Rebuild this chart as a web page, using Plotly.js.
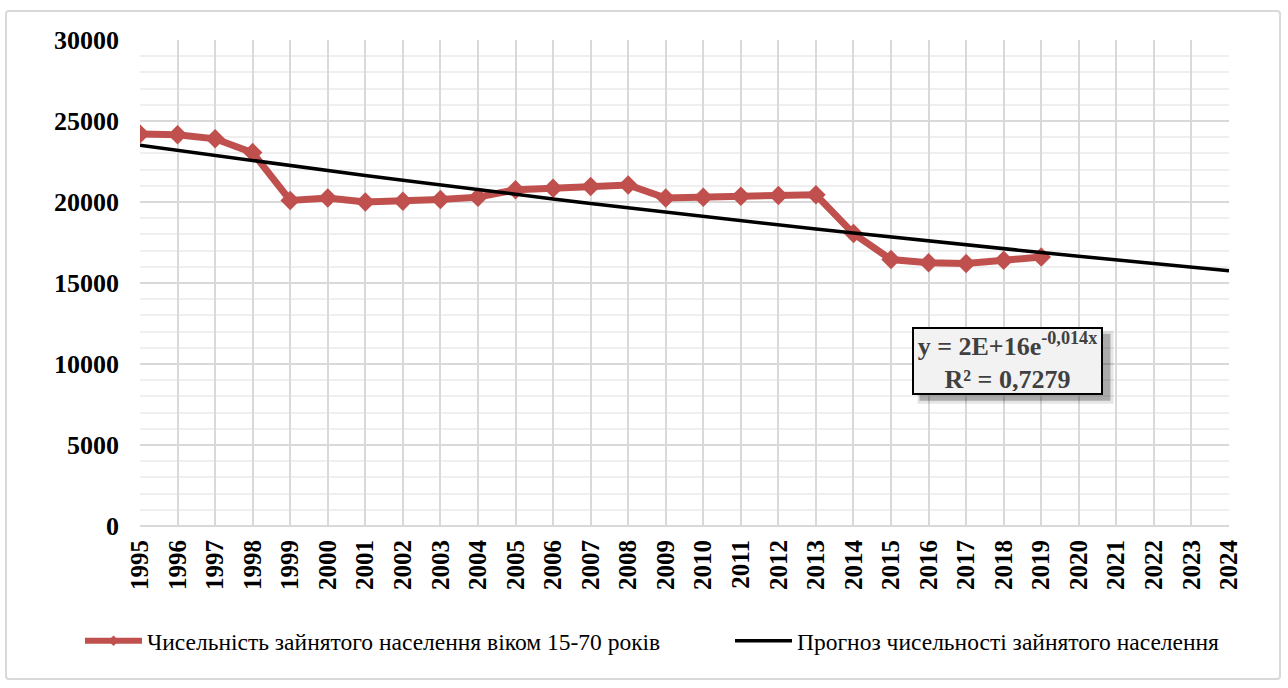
<!DOCTYPE html>
<html>
<head>
<meta charset="utf-8">
<script src="https://cdn.plot.ly/plotly-3.0.1.min.js"></script>
<style>
  html, body { margin: 0; padding: 0; background: #fff; }
  #wrap { position: relative; width: 1288px; height: 688px; }
  #chart { width: 1288px; height: 688px; }
  #frame { position: absolute; left: 5px; top: 10px; width: 1276px; height: 670px;
           border: 2px solid #d9d9d9; border-radius: 4px; pointer-events: none; box-sizing: border-box; }
</style>
</head>
<body>
<div id="wrap">
  <div id="chart"></div>
  <div id="frame"></div>
</div>
<script>
// Observed series
const years = [1995,1996,1997,1998,1999,2000,2001,2002,2003,2004,2005,2006,2007,2008,2009,2010,2011,2012,2013,2014,2015,2016,2017,2018,2019];
const employed = [24200,24150,23900,23050,20100,20250,20000,20050,20150,20300,20750,20850,20950,21050,20250,20300,20350,20400,20450,18050,16450,16250,16200,16400,16600];

// Forecast (trend) line
const trendYears = [1995,1996,1997,1998,1999,2000,2001,2002,2003,2004,2005,2006,2007,2008,2009,2010,2011,2012,2013,2014,2015,2016,2017,2018,2019,2020,2021,2022,2023,2024];
const trend = [23500,23180,22860,22550,22240,21930,21630,21340,21040,20760,20470,20190,19910,19640,19370,19110,18850,18590,18330,18080,17830,17590,17350,17110,16880,16650,16420,16190,15970,15750];

const seriesNames = ['Чисельність зайнятого населення віком 15-70 років', 'Прогноз чисельності зайнятого населення'];
const eqText = '<b>y = 2E+16e<sup>-0,014x</sup></b><br><b>R² = 0,7279</b>';
const yTicks = [0,5000,10000,15000,20000,25000,30000];

const serif = 'Liberation Serif, Times New Roman, serif';
const red = '#c0504d';

const traces = [
  {
    x: years, y: employed, name: seriesNames[0], type: 'scatter', mode: 'lines+markers',
    line: {color: red, width: 7},
    marker: {symbol: 'diamond', size: 15, color: red},
    showlegend: false
  },
  {
    x: trendYears, y: trend, name: seriesNames[1], type: 'scatter', mode: 'lines',
    line: {color: '#000000', width: 3.5},
    showlegend: false
  },
  // legend entries
  {
    x: [null], y: [null], name: seriesNames[0], type: 'scatter', mode: 'lines+markers',
    line: {color: red, width: 6}, marker: {symbol: 'diamond', size: 8, color: red},
    legend: 'legend'
  },
  {
    x: [null], y: [null], name: seriesNames[1], type: 'scatter', mode: 'lines',
    line: {color: '#000000', width: 3.5},
    legend: 'legend2'
  }
];

const legendBase = {
  orientation: 'h', xref: 'container', yref: 'container',
  y: 47/688, xanchor: 'left', yanchor: 'middle',
  itemwidth: 57,
  font: {family: serif, size: 23.5, color: '#000'},
  bgcolor: 'rgba(0,0,0,0)'
};

const layout = {
  width: 1288, height: 688,
  margin: {l: 140, r: 59, t: 40, b: 162},
  paper_bgcolor: '#ffffff', plot_bgcolor: '#ffffff',
  showlegend: true,
  xaxis: {
    range: [1995, 2024], tickmode: 'linear', tick0: 1995, dtick: 1,
    tickangle: -90, ticks: '', ticklabelstandoff: 8,
    tickfont: {family: serif, size: 25, color: '#000', weight: 'bold'},
    showgrid: true, gridcolor: '#d9d9d9', gridwidth: 2,
    showline: false, zeroline: false, fixedrange: true
  },
  yaxis: {
    range: [0, 30000], tickmode: 'array', tickvals: yTicks, ticktext: yTicks.map(String),
    ticks: '', ticklabelstandoff: 20,
    tickfont: {family: serif, size: 26, color: '#000', weight: 'bold'},
    showgrid: true, gridcolor: '#d9d9d9', gridwidth: 2,
    minor: {dtick: 1000, showgrid: true, gridcolor: '#efefef', gridwidth: 2},
    showline: false, zeroline: true, zerolinecolor: '#d9d9d9', zerolinewidth: 2, fixedrange: true
  },
  legend: Object.assign({}, legendBase, {x: 80/1288}),
  legend2: Object.assign({}, legendBase, {x: 730/1288}),
  shapes: [
    {type: 'rect', xref: 'x', yref: 'y', xsizemode: 'pixel', ysizemode: 'pixel',
     xanchor: 2018.1, yanchor: 10200, x0: -90, x1: 106, y0: -43, y1: 30,
     fillcolor: 'rgba(0,0,0,0.10)', line: {width: 0}, layer: 'above'},
    {type: 'rect', xref: 'x', yref: 'y', xsizemode: 'pixel', ysizemode: 'pixel',
     xanchor: 2018.1, yanchor: 10200, x0: -88, x1: 103, y0: -40, y1: 27,
     fillcolor: 'rgba(0,0,0,0.25)', line: {width: 0}, layer: 'above'}
  ],
  annotations: [
    {
      x: 2018.1, y: 10200, xref: 'x', yref: 'y', text: eqText, showarrow: false,
      width: 183, height: 60, align: 'center', valign: 'middle',
      bgcolor: '#f2f2f2', bordercolor: '#000000', borderwidth: 2, borderpad: 2,
      font: {family: serif, size: 26, color: '#404040'}
    }
  ]
};

Plotly.newPlot('chart', traces, layout, {displayModeBar: false, staticPlot: true});
</script>
</body>
</html>
